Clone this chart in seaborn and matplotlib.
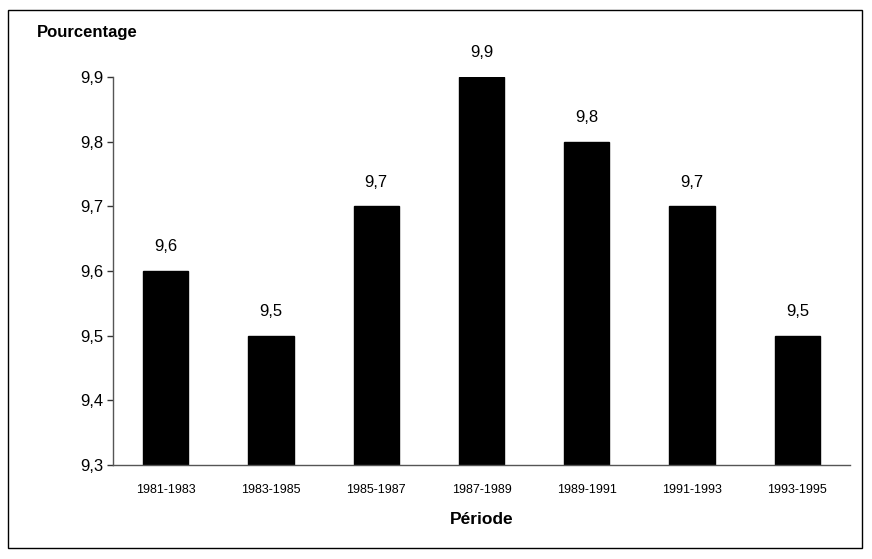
import matplotlib
matplotlib.use("Agg")
import matplotlib.pyplot as plt
import matplotlib.ticker as mticker
from matplotlib.patches import Rectangle
import seaborn as sns
import pandas as pd

periods = ["1981-1983", "1983-1985", "1985-1987", "1987-1989", "1989-1991", "1991-1993", "1993-1995"]
values = [9.6, 9.5, 9.7, 9.9, 9.8, 9.7, 9.5]
y_ticks = [9.3, 9.4, 9.5, 9.6, 9.7, 9.8, 9.9]

sns.set_style("white")
plt.rcParams['font.family'] = ['Liberation Sans', 'DejaVu Sans']
plt.rcParams['text.color'] = 'black'
plt.rcParams['axes.labelcolor'] = 'black'
plt.rcParams['xtick.color'] = 'black'
plt.rcParams['ytick.color'] = 'black'

df = pd.DataFrame({"Période": periods, "Pourcentage": values})

fig = plt.figure(figsize=(8.72, 5.59), dpi=100)
ax = fig.add_axes([113/872, 1-465/559, (850-113)/872, (465-77)/559])

sns.barplot(data=df, x="Période", y="Pourcentage", color="black", width=0.43,
            saturation=1, ax=ax, edgecolor="black")

ax.set_ylim(9.3, 9.9)
ax.set_xlim(-0.5, 6.5)
ax.set_yticks(y_ticks)
ax.yaxis.set_major_formatter(mticker.FuncFormatter(lambda v, p: f"{v:.1f}".replace(".", ",")))
ax.tick_params(axis="y", which="major", left=True, length=4, width=1, color="#333333",
               labelcolor="black", labelsize=12, pad=3, direction="out")
ax.tick_params(axis="x", bottom=False, labelcolor="black", labelsize=9, pad=10)

for s in ["top", "right"]:
    ax.spines[s].set_visible(False)
for s in ["left", "bottom"]:
    ax.spines[s].set_color("#555555")
    ax.spines[s].set_linewidth(1)

for i, v in enumerate(values):
    ax.annotate(f"{v:.1f}".replace(".", ","), xy=(i, v), xytext=(0, 12),
                textcoords="offset points", ha="center", va="bottom", fontsize=12,
                color="black")

ax.set_xlabel("Période", fontsize=12.5, fontweight="bold", labelpad=12, color="black")
ax.set_ylabel("")
fig.text(37/872, 1-33/559, "Pourcentage", fontsize=12, fontweight="bold", ha="left",
         va="center", color="black")

fig.patches.append(Rectangle((8/872, 1-548/559), (862-8)/872, (548-10)/559,
                             transform=fig.transFigure, fill=False, edgecolor="black", linewidth=1))

fig.savefig("out.png", dpi=100)
